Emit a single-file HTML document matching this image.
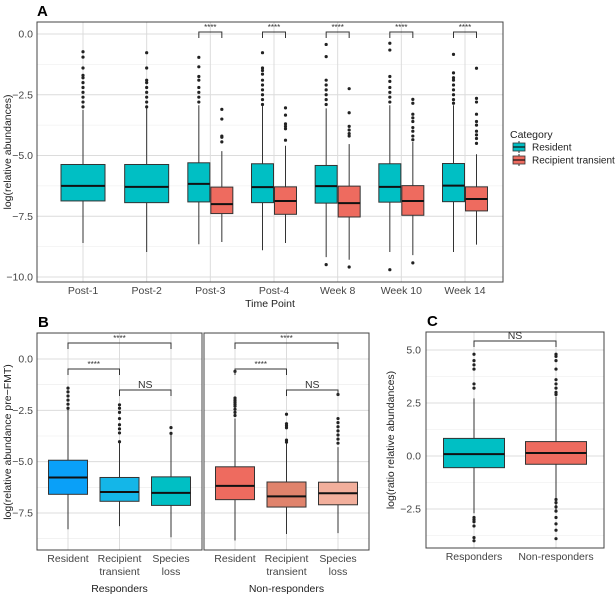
<!DOCTYPE html>
<html><head><meta charset="utf-8"><style>
html,body{margin:0;padding:0;background:#fff;}
svg{display:block;font-family:"Liberation Sans",sans-serif;}
</style></head><body>
<svg id="fig" width="615" height="595" viewBox="0 0 615 595" xmlns="http://www.w3.org/2000/svg"></svg>
<script>
// ---- Panel A data ----
const aCats = ["Post-1","Post-2","Post-3","Post-4","Week 8","Week 10","Week 14"];
const aTicks = [0,-2.5,-5,-7.5,-10];
const aTickLabels = ["0.0","\u22122.5","\u22125.0","\u22127.5","\u221210.0"];
// [lowWhisker, q1, median, q3, highWhisker]
const aResident = [[-8.6,-6.87,-6.25,-5.37,-3.13],[-8.97,-6.94,-6.29,-5.37,-3.06],[-8.65,-6.91,-6.17,-5.3,-2.93],[-8.9,-6.94,-6.3,-5.34,-2.97],[-9.18,-6.96,-6.26,-5.41,-3.06],[-8.97,-6.92,-6.29,-5.34,-2.93],[-8.97,-6.9,-6.24,-5.33,-2.93]];
const aResidentOut = [[-0.73,-0.95,-1.4,-1.7,-1.8,-2.0,-2.2,-2.4,-2.6,-2.8,-3.0],[-0.77,-1.4,-1.9,-2.0,-2.2,-2.4,-2.6,-2.8,-3.0],[-0.96,-1.35,-1.75,-1.9,-2.2,-2.4,-2.6,-2.8],[-0.77,-1.4,-1.5,-1.65,-1.9,-2.1,-2.3,-2.5,-2.7,-2.9],[-0.43,-0.93,-1.9,-2.1,-2.3,-2.5,-2.7,-2.9,-9.49],[-0.38,-0.66,-1.75,-1.95,-2.2,-2.4,-2.6,-2.8,-9.7],[-0.84,-1.6,-1.8,-1.9,-2.1,-2.3,-2.5,-2.7,-2.85]];
const aTransient = [null,null,[-8.56,-7.39,-7.0,-6.3,-4.82],[-8.6,-7.42,-6.87,-6.29,-4.6],[-9.29,-7.53,-6.96,-6.26,-4.53],[-9.1,-7.46,-6.87,-6.24,-4.44],[-8.67,-7.28,-6.79,-6.29,-4.95]];
const aTransientOut = [[],[],[-3.1,-3.5,-4.2,-4.25,-4.44],[-3.04,-3.34,-3.7,-3.8,-3.9,-4.37],[-2.25,-3.24,-3.8,-3.95,-4.1,-4.2,-9.59],[-2.69,-2.85,-3.3,-3.45,-3.6,-3.85,-4.0,-4.2,-4.35,-9.42],[-1.41,-2.65,-2.8,-3.3,-3.6,-3.75,-4.0,-4.15,-4.3,-4.5]];
const aSig = ["","","****","****","****","****","****"];
// ---- Panel B data ----
const bCats = ["Resident","Recipient|transient","Species|loss"];
const bTicks = [0,-2.5,-5,-7.5];
const bTickLabels = ["0.0","\u22122.5","\u22125.0","\u22127.5"];
const bResponders = [[-8.29,-6.59,-5.77,-4.93,-2.4],[-8.14,-6.93,-6.48,-5.77,-4.1],[-8.68,-7.13,-6.52,-5.74,-3.62]];
const bRespondersOut = [[-1.42,-1.6,-1.8,-2.0,-2.2,-2.4],[-2.23,-2.4,-2.6,-2.9,-3.2,-3.4,-3.6,-4.03],[-3.34,-3.62]];
const bNonResponders = [[-8.84,-6.85,-6.18,-5.25,-2.9],[-8.52,-7.21,-6.69,-5.99,-3.95],[-8.48,-7.1,-6.54,-6.0,-4.29]];
const bNonRespondersOut = [[-0.6,-1.9,-2.0,-2.1,-2.2,-2.3,-2.45,-2.6,-2.75],[-2.69,-3.15,-3.25,-3.35,-3.95,-4.05],[-1.73,-2.9,-3.1,-3.3,-3.5,-3.7,-3.9,-4.1]];
// ---- Panel C data ----
const cCats = ["Responders","Non-responders"];
const cTicks = [5,2.5,0,-2.5];
const cTickLabels = ["5.0","2.5","0.0","\u22122.5"];
const cBoxes = [[-2.7,-0.55,0.09,0.83,2.72],[-2.55,-0.39,0.14,0.68,2.8]];
const cOut = [[3.2,3.4,4.1,4.3,4.5,4.8,-2.9,-3.0,-3.1,-3.3,-3.85,-4.0],[2.9,3.0,3.2,3.4,3.6,4.1,4.5,4.7,4.8,-2.05,-2.2,-2.4,-2.6,-2.9,-3.2,-3.5,-3.9]];

const NS="http://www.w3.org/2000/svg";
const svg=document.getElementById('fig');
function mk(tag,attrs,parent){const e=document.createElementNS(NS,tag);for(const k in attrs)e.setAttribute(k,attrs[k]);(parent||svg).appendChild(e);return e;}
function txt(s,x,y,attrs,parent){const e=mk('text',Object.assign({x:x,y:y},attrs||{}),parent);e.textContent=s;return e;}
function lin(d0,d1,r0,r1){return v=>r0+(v-d0)*(r1-r0)/(d1-d0);}
const FS=10.5;

function panelFrame(g,x0,x1,y0,y1,yScale,ticks,minor,xs,name){
  const fr=mk('g',{},g);
  
  
  minor.forEach(v=>mk('line',{x1:x0,x2:x1,y1:yScale(v),y2:yScale(v),stroke:'#ebebeb','stroke-width':0.6},fr));
  ticks.forEach(v=>mk('line',{x1:x0,x2:x1,y1:yScale(v),y2:yScale(v),stroke:'#dcdcdc','stroke-width':1},fr));
  xs.forEach(x=>mk('line',{x1:x,x2:x,y1:y0,y2:y1,stroke:'#dcdcdc','stroke-width':1},fr));
}
function border(g,x0,x1,y0,y1,name){
  const r=mk('rect',{x:x0,y:y0,width:x1-x0,height:y1-y0,fill:'none',stroke:'#444','stroke-width':1},g);
  
  
}
function box(g,cx,w,st,outs,yS,fill,name){
  const bg=mk('g',{},g);
  
  
  mk('line',{x1:cx,x2:cx,y1:yS(st[0]),y2:yS(st[4]),stroke:'#333','stroke-width':1},bg);
  mk('rect',{x:cx-w/2,y:yS(st[3]),width:w,height:yS(st[1])-yS(st[3]),fill:fill,stroke:'#333','stroke-width':1},bg);
  mk('line',{x1:cx-w/2,x2:cx+w/2,y1:yS(st[2]),y2:yS(st[2]),stroke:'#111','stroke-width':2},bg);
  (outs||[]).forEach(v=>mk('circle',{cx:cx,cy:yS(v),r:1.6,fill:'#222'},bg));
}
function bracket(g,xa,xb,y,label,fs,name){
  const bg=mk('g',{},g);
  
  
  mk('path',{d:`M${xa},${y+6}V${y}H${xb}V${y+6}`,fill:'none',stroke:'#333','stroke-width':1},bg);
  txt(label,(xa+xb)/2,y-2,{'font-size':fs,'text-anchor':'middle',fill:'#333'},bg);
}

// ===== Panel A =====
const gA=mk('g',{});


txt('A',37,16,{'font-size':15,'font-weight':'bold',fill:'#000'},gA);
const aX0=37,aX1=503,aY0=22,aY1=282;
const aY=lin(0,-10,34,277);
const aXc=lin(0,6,83,465);
panelFrame(gA,aX0,aX1,aY0,aY1,aY,aTicks,[-1.25,-3.75,-6.25,-8.75],aCats.map((c,i)=>aXc(i)),'panel-a');
aCats.forEach((c,i)=>{
  const cx=aXc(i);
  if(aTransient[i]){
    box(gA,cx-11.5,22,aResident[i],aResidentOut[i],aY,'#00BFC4','box-resident-'+i);
    box(gA,cx+11.5,22,aTransient[i],aTransientOut[i],aY,'#EE6B5F','box-transient-'+i);
    bracket(gA,cx-11.5,cx+11.5,aY(0.08),aSig[i],8,'sig-bracket-a-'+i);
  } else {
    box(gA,cx,44,aResident[i],aResidentOut[i],aY,'#00BFC4','box-resident-'+i);
  }
  txt(c,cx,294,{'font-size':FS,'text-anchor':'middle',fill:'#444'},gA);
});
border(gA,aX0,aX1,aY0,aY1,'panel-a');
aTicks.forEach((v,i)=>{txt(aTickLabels[i],33,aY(v)+3.5,{'font-size':FS,'text-anchor':'end',fill:'#444'},gA);});
txt('Time Point',270,307,{'font-size':FS,'text-anchor':'middle',fill:'#222'},gA);
txt('log(relative abundances)',11,152,{'font-size':FS,'text-anchor':'middle',fill:'#222',transform:'rotate(-90 11 152)'},gA);
// legend
const lg=mk('g',{},gA);


txt('Category',510,138,{'font-size':10.5,fill:'#222'},lg);
[['Resident','#00BFC4'],['Recipient transient','#EE6B5F']].forEach((d,i)=>{
  const y=147+i*13;
  const e=mk('g',{},lg);
  
  
  mk('line',{x1:519,x2:519,y1:y-6,y2:y+6,stroke:'#333'},e);
  mk('rect',{x:513,y:y-4,width:12,height:8,fill:d[1],stroke:'#333','stroke-width':0.8},e);
  mk('line',{x1:513,x2:525,y1:y,y2:y,stroke:'#111','stroke-width':1.2},e);
  txt(d[0],532,y+3.5,{'font-size':10,fill:'#222'},e);
});

// ===== Panel B =====
const gB=mk('g',{});


txt('B',38,327,{'font-size':15,'font-weight':'bold',fill:'#000'},gB);
const bY=lin(0,-7.5,359,513);
const bFacets=[{x0:37,x1:202,xs:[68,119.5,171],data:bResponders,out:bRespondersOut,cols:['#0AA0F8','#14B6E8','#00BFC4'],label:'Responders'},
               {x0:204,x1:369,xs:[235,286.5,338],data:bNonResponders,out:bNonRespondersOut,cols:['#EE6B5F','#E0836C','#F2AF9C'],label:'Non-responders'}];
bFacets.forEach((f,fi)=>{
  panelFrame(gB,f.x0,f.x1,333,550,bY,bTicks,[1.25,-1.25,-3.75,-6.25,-8.75].filter(v=>bY(v)>333&&bY(v)<550),f.xs,'panel-b-'+fi);
  f.data.forEach((st,i)=>box(gB,f.xs[i],39,st,f.out[i],bY,f.cols[i],'box-b-'+fi+'-'+i));
  bracket(gB,f.xs[0],f.xs[2],343,'****',8,'sig-b-'+fi+'-all');
  bracket(gB,f.xs[0],f.xs[1],369,'****',8,'sig-b-'+fi+'-rt');
  bracket(gB,f.xs[1],f.xs[2],390,'NS',FS,'sig-b-'+fi+'-ns');
  border(gB,f.x0,f.x1,333,550,'panel-b-'+fi);
  bCats.forEach((c,i)=>{
    const parts=c.split('|');
    parts.forEach((p,j)=>txt(p,f.xs[i],562+j*13,{'font-size':FS,'text-anchor':'middle',fill:'#444'},gB));
  });
  txt(f.label,(f.x0+f.x1)/2,592,{'font-size':FS,'text-anchor':'middle',fill:'#222'},gB);
});
bTicks.forEach((v,i)=>{txt(bTickLabels[i],33,bY(v)+3.5,{'font-size':FS,'text-anchor':'end',fill:'#444'},gB);});
txt('log(relative abundance pre\u2212FMT)',11,442,{'font-size':FS,'text-anchor':'middle',fill:'#222',transform:'rotate(-90 11 442)'},gB);

// ===== Panel C =====
const gC=mk('g',{});


txt('C',427,326,{'font-size':15,'font-weight':'bold',fill:'#000'},gC);
const cY=lin(0,5,456,350);
const cXs=[474,556];
panelFrame(gC,426,604,332,548,cY,cTicks,[3.75,1.25,-1.25,-3.75],cXs,'panel-c');
cBoxes.forEach((st,i)=>box(gC,cXs[i],61,st,cOut[i],cY,i?'#EE6B5F':'#00BFC4','box-c-'+i));
bracket(gC,cXs[0],cXs[1],341,'NS',FS,'sig-c');
border(gC,426,604,332,548,'panel-c');
cTicks.forEach((v,i)=>{txt(cTickLabels[i],421,cY(v)+3.5,{'font-size':FS,'text-anchor':'end',fill:'#444'},gC);});
cCats.forEach((c,i)=>txt(c,cXs[i],560,{'font-size':FS,'text-anchor':'middle',fill:'#444'},gC));
txt('log(ratio relative abundances)',394,440,{'font-size':FS,'text-anchor':'middle',fill:'#222',transform:'rotate(-90 394 440)'},gC);
</script>
</body></html>
